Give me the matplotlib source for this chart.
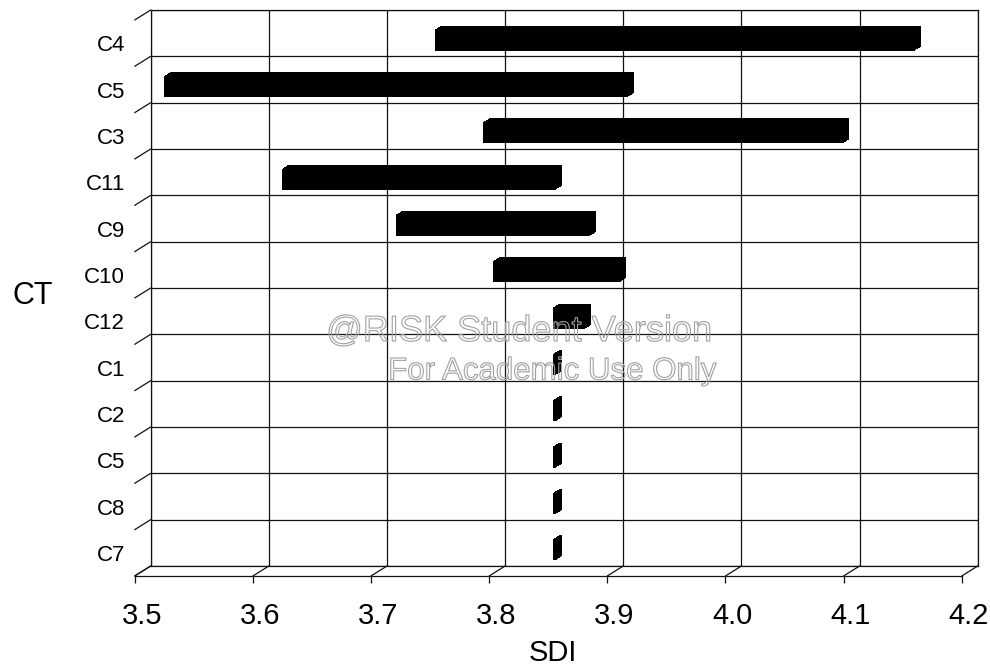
import numpy as np
import matplotlib
matplotlib.use("Agg")
import matplotlib.pyplot as plt
from matplotlib.transforms import ScaledTranslation
from matplotlib.patches import ConnectionPatch
import matplotlib.patheffects as pe

plt.rcParams["font.family"] = ["Liberation Sans", "DejaVu Sans"]

# Tornado data: input ranks (top to bottom) and the SDI range each one spans
categories = ["C4", "C5", "C3", "C11", "C9", "C10", "C12", "C1", "C2", "C5", "C8", "C7"]
sdi_low = [3.750, 3.521, 3.791, 3.621, 3.717, 3.799, 3.850, 3.850, 3.850, 3.850, 3.850, 3.850]
sdi_high = [4.156, 3.913, 4.095, 3.852, 3.881, 3.906, 3.877, 3.852, 3.852, 3.852, 3.852, 3.852]
x_ticks = [3.5, 3.6, 3.7, 3.8, 3.9, 4.0, 4.1, 4.2]
x_tick_labels = ["3.5", "3.6", "3.7", "3.8", "3.9", "4.0", "4.1", "4.2"]
x_title = "SDI"
y_title = "CT"

W, H, DPI = 990, 667, 100
fig = plt.figure(figsize=(W / DPI, H / DPI), dpi=DPI)

# depth of the pseudo-3D box (inches, towards the viewer: left and down)
DEPTH_X, DEPTH_Y = -0.16, -0.10

# back wall
bl, bb, bw, bh = 0.1522, 0.15142, 0.8354, 0.83358
ax = fig.add_axes([bl, bb, bw, bh])
# front plane (floor edge, ticks and labels)
axf = fig.add_axes([bl + DEPTH_X / (W / DPI), bb + DEPTH_Y / (H / DPI), bw, bh])

n = len(categories)
for a in (ax, axf):
    a.set_xlim(x_ticks[0], x_ticks[-1])
    a.set_ylim(n, 0)

# back wall: frame and grid
ax.set_xticks(x_ticks)
ax.set_yticks(np.arange(n + 1))
ax.tick_params(length=0, labelbottom=False, labelleft=False)
ax.grid(True, color="#111111", linewidth=0.9)
for s in ax.spines.values():
    s.set_color("#111111")
    s.set_linewidth(0.9)
ax.set_facecolor("white")

# front plane: only the floor edge, with ticks and labels
axf.patch.set_visible(False)
for side in ("top", "right", "left"):
    axf.spines[side].set_visible(False)
axf.spines["bottom"].set_color("#111111")
axf.spines["bottom"].set_linewidth(0.9)
axf.set_xticks(x_ticks)
axf.set_xticklabels(x_tick_labels, fontsize=21)
axf.tick_params(axis="x", direction="out", length=5, width=0.9, color="#111111", pad=14)
label_shift = ScaledTranslation(0.07, 0, fig.dpi_scale_trans)
for lab in axf.get_xticklabels():
    lab.set_transform(lab.get_transform() + label_shift)
axf.set_yticks(np.arange(n) + 0.5)
axf.set_yticklabels(categories, fontsize=16)
axf.tick_params(axis="y", length=0, pad=7)
axf.set_xlabel(x_title, fontsize=21, va="center")
axf.xaxis.set_label_coords(0.506, -0.1385)
axf.set_ylabel(y_title, fontsize=22, rotation=0, va="center", ha="center")
axf.yaxis.set_label_coords(-0.123, 0.503)

# receding edges joining the back wall to the front plane
def depth_edge(xy):
    con = ConnectionPatch(xyA=xy, coordsA=ax.transData, xyB=xy, coordsB=axf.transData,
                          color="#111111", linewidth=0.9)
    fig.add_artist(con)

for v in x_ticks:
    depth_edge((v, n))
for r in range(n + 1):
    depth_edge((x_ticks[0], r))

# bars as solid boxes: sweep the face through the bar's depth
bar_height = 0.46
for k in np.linspace(0.3, 0.7, 24):
    tr = ax.transData + ScaledTranslation(k * DEPTH_X, k * DEPTH_Y, fig.dpi_scale_trans)
    for i, (lo, hi) in enumerate(zip(sdi_low, sdi_high)):
        ax.barh(i + 0.5, hi - lo, left=lo, height=bar_height, color="black",
                linewidth=0, transform=tr, clip_on=False, zorder=3)

# watermark
wm = dict(color=(1, 1, 1, 0), ha="center", va="center", zorder=10,
          path_effects=[pe.Stroke(linewidth=0.8, foreground="#a0a0a0")])
fig.text(519 / W, 1 - 331.5 / H, "@RISK Student Version", fontsize=26, **wm)
fig.text(552.5 / W, 1 - 371.5 / H, "For Academic Use Only", fontsize=22.5, **wm)

fig.savefig("out.png", dpi=DPI, facecolor="white")
